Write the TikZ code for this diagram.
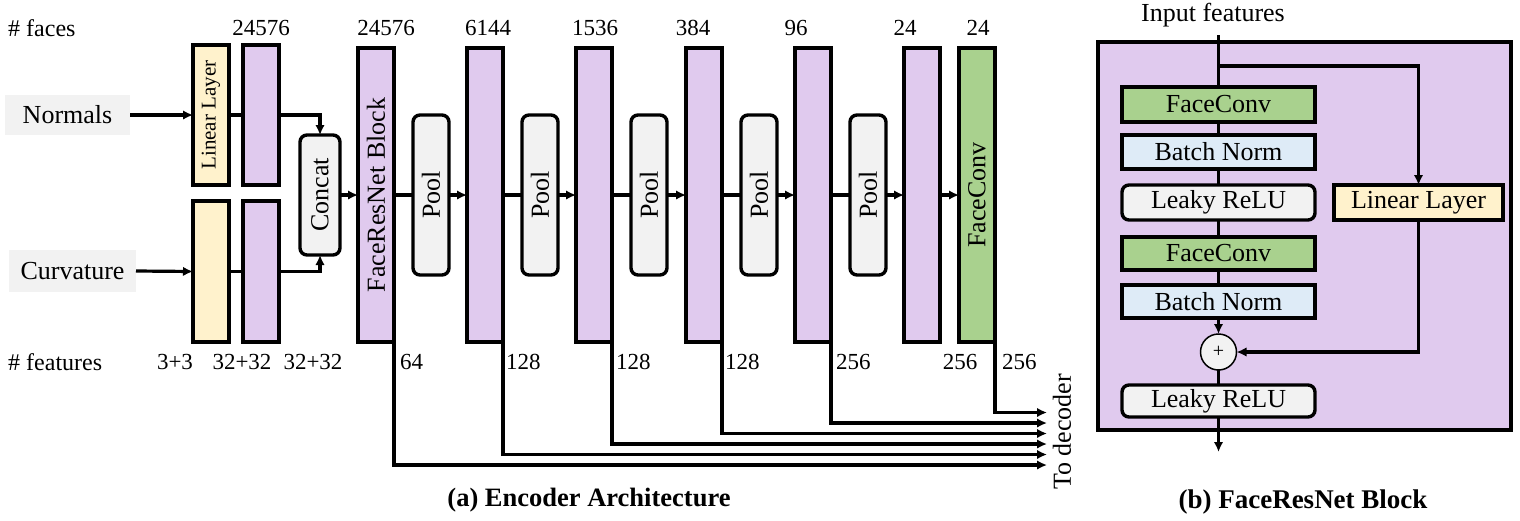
\documentclass[tikz,border=0pt]{standalone}
\usepackage{fontspec}
\setmainfont{Liberation Serif}
\usetikzlibrary{arrows.meta}
\definecolor{cpurple}{RGB}{224,202,238}
\definecolor{cyellow}{RGB}{255,242,204}
\definecolor{cgreen}{RGB}{169,209,142}
\definecolor{cblue}{RGB}{222,235,247}
\definecolor{cgray}{RGB}{242,242,242}
\newcommand\myfs[1]{\fontsize{#1pt}{#1pt}\selectfont}
\begin{document}
\begin{tikzpicture}[x=1pt,y=-1pt,
  bx/.style={draw, line width=3.4pt, outer sep=0pt, inner sep=0pt},
  pbox/.style={bx, fill=cpurple, minimum width=36pt, minimum height=294pt},
  ybox/.style={bx, fill=cyellow, minimum width=36pt},
  gnbox/.style={bx, fill=cgreen, minimum width=36pt, minimum height=294pt},
  poolbox/.style={bx, fill=cgray, rounded corners=7pt, minimum width=36pt, minimum height=160pt},
  inbox/.style={fill=cgray, outer sep=0pt, inner sep=0pt, font=\myfs{26}},
  lbl/.style={font=\myfs{23}, inner sep=0pt},
  vt/.style={rotate=90, font=\myfs{26}, inner sep=0pt},
  rb/.style={bx, minimum width=193pt, font=\myfs{26}},
  ln/.style={line width=3.2pt},
  ar/.style={line width=3.2pt, -{Latex[length=10pt,width=9.5pt]}},
]
\useasboundingbox (0,0) rectangle (1520,520);

% ---------- (a) encoder ----------
\node[lbl, anchor=west, font=\myfs{24}] (hfaces) at (8,28) {\# faces};
\node[lbl, anchor=west, font=\myfs{24}] (hfeat) at (8,362) {\# features};

\node[inbox, minimum width=125pt, minimum height=40pt] (norm) at (67.5,115) {Normals};
\node[inbox, minimum width=127pt, minimum height=42pt] (curv) at (72.5,271) {Curvature};

\node[ybox, minimum height=140pt] (lin1) at (211,115) {};
\node[vt, font=\myfs{21}] (lin1t) at (lin1) {Linear Layer};
\node[pbox, minimum height=140pt] (p1a) at (261,115) {};
\node[ybox, minimum height=141pt] (lin2) at (211,271.5) {};
\node[pbox, minimum height=141pt] (p1b) at (261,271.5) {};
\node[bx, fill=cgray, rounded corners=7pt, minimum width=40pt, minimum height=120pt] (concat) at (320,195) {};
\node[vt] (concatt) at (concat) {Concat};

\node[pbox] (frb) at (376,195) {};
\node[vt] (frbt) at (frb) {FaceResNet Block};

\foreach \i/\xp/\xq in {1/431/485, 2/540/594, 3/649/704, 4/759/813, 5/868/922} {
  \node[poolbox] (pool\i) at (\xp,195) {};
  \node[vt] (poolt\i) at (pool\i) {Pool};
  \node[pbox] (pu\i) at (\xq,195) {};
}
\node[gnbox] (fc) at (977,195) {};
\node[vt] (fct) at (fc) {FaceConv};

% input connectors
\draw[ar] (norm.east) -- (lin1.west);
\draw[ln] (lin1.east) -- (p1a.west);
\draw[ar] (p1a.east) -| (concat.north);
\draw[ar] (curv.east) -- (lin2.west);
\draw[ln] (lin2.east) -- (p1b.west);
\draw[ar] (p1b.east) -| (concat.south);
\draw[ar] (concat.east) -- (frb.west);

% chain
\draw[ln] (frb.east) -- (pool1.west);
\draw[ar] (pool1.east) -- (pu1.west);
\draw[ln] (pu1.east) -- (pool2.west);
\draw[ar] (pool2.east) -- (pu2.west);
\draw[ln] (pu2.east) -- (pool3.west);
\draw[ar] (pool3.east) -- (pu3.west);
\draw[ln] (pu3.east) -- (pool4.west);
\draw[ar] (pool4.east) -- (pu4.west);
\draw[ln] (pu4.east) -- (pool5.west);
\draw[ar] (pool5.east) -- (pu5.west);
\draw[ar] (pu5.east) -- (fc.west);

% skip outputs to decoder
\coordinate (e1) at (1047,465);
\coordinate (e2) at (1047,454.5);
\coordinate (e3) at (1047,444);
\coordinate (e4) at (1047,433.5);
\coordinate (e5) at (1047,423);
\coordinate (e6) at (1047,412.5);
\draw[ar] (frb.south east) |- (e1);
\draw[ar] (pu1.south east) |- (e2);
\draw[ar] (pu2.south east) |- (e3);
\draw[ar] (pu3.south east) |- (e4);
\draw[ar] (pu4.south east) |- (e5);
\draw[ar] (fc.east) |- (e6);
\node[vt, font=\myfs{26}] (todec) at (1062,432) {To decoder};

% face counts
\node[lbl] (f1) at (261,28) {24576};
\node[lbl] (f2) at (386,28) {24576};
\node[lbl] (f3) at (488,28) {6144};
\node[lbl] (f4) at (595,28) {1536};
\node[lbl] (f5) at (693,28) {384};
\node[lbl] (f6) at (796,28) {96};
\node[lbl] (f7) at (905,28) {24};
\node[lbl] (f8) at (978,28) {24};

% feature counts
\node[lbl] (n1) at (175,362) {3+3};
\node[lbl] (n2) at (242,362) {32+32};
\node[lbl] (n3) at (313,362) {32+32};
\node[lbl, anchor=west] (n4) at (400,362) {64};
\node[lbl, anchor=west] (n5) at (506,362) {128};
\node[lbl, anchor=west] (n6) at (616,362) {128};
\node[lbl, anchor=west] (n7) at (725,362) {128};
\node[lbl, anchor=west] (n8) at (836,362) {256};
\node[lbl] (n9) at (960,362) {256};
\node[lbl, anchor=west] (n10) at (1002,362) {256};

\node[font=\myfs{26.5}\bfseries, inner sep=0pt] (capa) at (589,500) {(a) Encoder Architecture};

% ---------- (b) FaceResNet block ----------
\node[font=\myfs{26}, inner sep=0pt] (inft) at (1213,15) {Input features};
\draw[line width=3.4pt, fill=cpurple] (1098,42) rectangle (1511,430);

\node[rb, fill=cgreen, minimum height=35pt] (fc1) at (1218.5,104.5) {FaceConv};
\node[rb, fill=cblue, minimum height=34pt] (bn1) at (1218.5,152) {Batch Norm};
\node[rb, fill=cgray, rounded corners=7pt, minimum height=35pt] (lr1) at (1218.5,202.5) {Leaky ReLU};
\node[rb, fill=cgreen, minimum height=33pt] (fc2) at (1218.5,253.5) {FaceConv};
\node[rb, fill=cblue, minimum height=33pt] (bn2) at (1218.5,301.5) {Batch Norm};
\node[draw, line width=1.5pt, fill=cgray, circle, minimum size=36pt, inner sep=0pt, outer sep=0pt, font=\myfs{20}] (plus) at (1218.5,352) {+};
\node[rb, fill=cgray, rounded corners=7pt, minimum height=32pt] (lr2) at (1218.5,401) {Leaky ReLU};
\node[bx, fill=cyellow, minimum width=169pt, minimum height=35pt, font=\myfs{26}] (ll) at (1418.5,202.5) {Linear Layer};

\coordinate (intop) at (1218.5,35);
\coordinate (br) at (1218.5,66);
\coordinate (outb) at (1218.5,452);
\draw[ln] (intop) -- (fc1.north);
\draw[ar] (br) -| (ll.north);
\draw[ln] (fc1.south) -- (bn1.north);
\draw[ln] (bn1.south) -- (lr1.north);
\draw[ln] (lr1.south) -- (fc2.north);
\draw[ln] (fc2.south) -- (bn2.north);
\draw[ar] (bn2.south) -- (plus.north);
\draw[ar] (ll.south) |- (plus.east);
\draw[ln] (plus.south) -- (lr2.north);
\draw[ar] (lr2.south) -- (outb);

\node[font=\myfs{27}\bfseries, inner sep=0pt] (capb) at (1303,502) {(b) FaceResNet Block};
\end{tikzpicture}
\end{document}
